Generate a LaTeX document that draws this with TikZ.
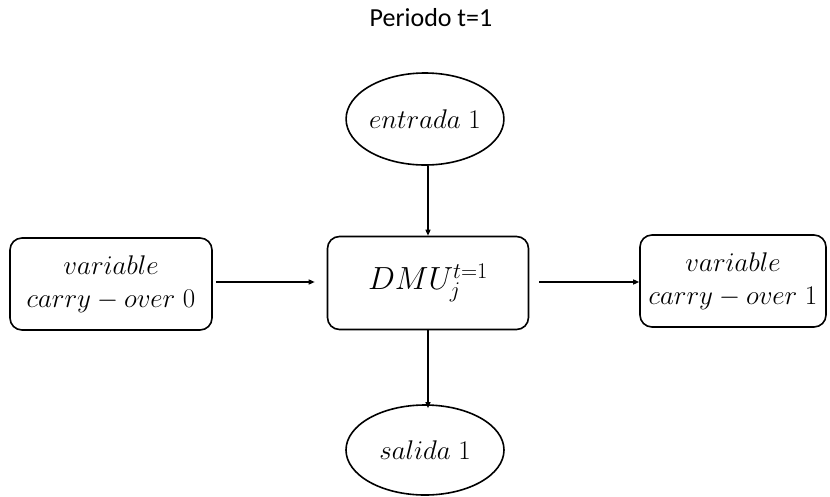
\RequirePackage{fix-cm}
\documentclass[tikz,border=0pt]{standalone}
\usepackage{fontspec}
\setsansfont{Carlito}
\usetikzlibrary{shapes.geometric,arrows.meta}
\begin{document}
\begin{tikzpicture}[x=1pt,y=-1pt,
  box/.style={draw,line width=1.6pt,rounded corners=12pt,align=center,inner sep=0pt},
  oval/.style={draw,ellipse,line width=1.6pt,inner sep=0pt},
  conn/.style={line width=1.3pt,-{Triangle[length=6pt,width=5pt]}},
  mtxt/.style={font=\fontsize{27}{33}\selectfont}]
\useasboundingbox (0,0) rectangle (830,496);
\node[font=\sffamily\fontsize{26}{30}\selectfont] (title) at (431,18) {Periodo t=1};
\node[oval,minimum width=156pt,minimum height=92pt,mtxt] (in) at (425,119) {$entrada\;1$};
\node[box,minimum width=201pt,minimum height=93pt,font=\fontsize{32}{38}\selectfont] (dmu) at (428,283) {$DMU_j^{t=1}$};
\node[box,minimum width=202pt,minimum height=92pt,mtxt] (left) at (111,284) {$variable$\\$carry-over\;0$};
\node[box,minimum width=186pt,minimum height=92pt,mtxt] (right) at (733,281) {$variable$\\$carry-over\;1$};
\node[oval,minimum width=158pt,minimum height=90pt,mtxt] (out) at (425,450) {$salida\;1$};
\draw[conn] (in.south -| dmu.north) -- (dmu.north);
\draw[conn] (dmu.south) -- ([yshift=-4pt]out.north -| dmu.south);
\draw[conn] ([xshift=3pt]left.east |- 0,282) -- ([xshift=-12pt]dmu.west |- 0,282);
\draw[conn] ([xshift=10pt]dmu.east |- 0,282) -- (right.west |- 0,282);
\end{tikzpicture}
\end{document}
